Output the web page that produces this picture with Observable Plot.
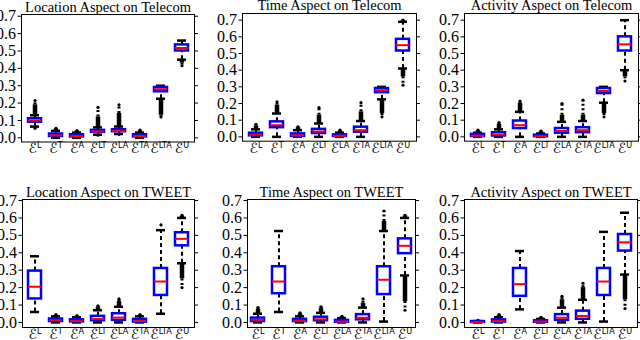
<!DOCTYPE html>
<html>
<head>
<meta charset="utf-8">
<script src="https://cdn.jsdelivr.net/npm/d3@7"></script>
<script src="https://cdn.jsdelivr.net/npm/@observablehq/plot@0.6"></script>
<style>
  html, body { margin: 0; padding: 0; background: #fff; }
  #chart { position: relative; width: 640px; height: 340px; overflow: hidden; background: #fff; }
  #chart svg { position: absolute; }
</style>
</head>
<body>
<div id="chart"></div>
<script>
// Categories (superscripts of the script E)
const categories = ["L", "T", "A", "LT", "LA", "TA", "LTA", "U"];
const yTicks = [0, 0.1, 0.2, 0.3, 0.4, 0.5, 0.6, 0.7];
const titles = [
  "Location Aspect on Telecom", "Time Aspect on Telecom", "Activity Aspect on Telecom",
  "Location Aspect on TWEET", "Time Aspect on TWEET", "Activity Aspect on TWEET"
];

// Each row: [whiskerLo, q1, median, q3, whiskerHi, lowOutlierEnd, lowOutlierDense, highOutlierDense, highOutlierEnd]
const locationTelecom = [
  [0.065, 0.090, 0.100, 0.110, 0.130, 0.055, 0.055, 0.190, 0.215],
  [0.000, 0.008, 0.015, 0.022, 0.040, null, null, 0.050, 0.055],
  [0.000, 0.005, 0.010, 0.018, 0.030, null, null, 0.040, 0.042],
  [0.018, 0.032, 0.037, 0.043, 0.060, 0.015, 0.015, 0.120, 0.175],
  [0.022, 0.035, 0.040, 0.047, 0.065, 0.020, 0.020, 0.140, 0.190],
  [0.000, 0.005, 0.010, 0.018, 0.030, null, null, 0.040, 0.045],
  [0.225, 0.265, 0.280, 0.290, 0.300, 0.120, 0.130, null, null],
  [0.450, 0.500, 0.517, 0.535, 0.560, 0.415, 0.430, null, null]
];
const timeTelecom = [
  [0.000, 0.006, 0.013, 0.022, 0.045, null, null, 0.065, 0.075],
  [0.000, 0.055, 0.070, 0.090, 0.140, null, null, 0.190, 0.210],
  [0.000, 0.003, 0.010, 0.018, 0.040, null, null, 0.055, 0.060],
  [0.000, 0.020, 0.032, 0.045, 0.080, null, null, 0.130, 0.175],
  [0.000, 0.002, 0.006, 0.012, 0.025, null, null, 0.035, 0.040],
  [0.000, 0.028, 0.040, 0.058, 0.095, null, null, 0.150, 0.205],
  [0.225, 0.265, 0.280, 0.290, 0.300, 0.120, 0.140, null, null],
  [0.410, 0.515, 0.550, 0.585, 0.690, 0.310, 0.360, 0.700, 0.700]
];
const activityTelecom = [
  [0.000, 0.002, 0.007, 0.015, 0.025, null, null, 0.035, 0.040],
  [0.000, 0.005, 0.013, 0.025, 0.045, null, null, 0.075, 0.085],
  [0.000, 0.050, 0.070, 0.095, 0.150, null, null, 0.200, 0.215],
  [0.000, 0.001, 0.004, 0.010, 0.020, null, null, 0.030, 0.035],
  [0.000, 0.022, 0.035, 0.050, 0.090, null, null, 0.130, 0.200],
  [0.000, 0.025, 0.040, 0.055, 0.095, null, null, 0.130, 0.220],
  [0.205, 0.260, 0.275, 0.290, 0.300, 0.120, 0.140, null, null],
  [0.400, 0.515, 0.555, 0.600, 0.700, 0.335, 0.360, null, null]
];
const locationTweet = [
  [0.060, 0.135, 0.205, 0.295, 0.380, null, null, null, null],
  [0.000, 0.005, 0.012, 0.020, 0.035, null, null, 0.040, 0.045],
  [0.000, 0.003, 0.008, 0.015, 0.030, null, null, 0.035, 0.040],
  [0.000, 0.010, 0.020, 0.035, 0.070, null, null, 0.085, 0.095],
  [0.000, 0.012, 0.028, 0.050, 0.090, null, null, 0.120, 0.135],
  [0.000, 0.002, 0.008, 0.018, 0.035, null, null, 0.040, 0.045],
  [0.050, 0.155, 0.235, 0.310, 0.530, null, null, null, 0.560],
  [0.340, 0.440, 0.480, 0.515, 0.600, 0.200, 0.250, 0.610, 0.615]
];
const timeTweet = [
  [0.000, 0.005, 0.015, 0.025, 0.050, null, null, 0.075, 0.085],
  [0.060, 0.165, 0.235, 0.320, 0.525, null, null, null, null],
  [0.000, 0.005, 0.010, 0.018, 0.035, null, null, 0.050, 0.055],
  [0.000, 0.010, 0.018, 0.030, 0.055, null, null, 0.080, 0.090],
  [0.000, 0.001, 0.005, 0.012, 0.025, null, null, 0.030, 0.035],
  [0.000, 0.015, 0.027, 0.045, 0.085, null, null, 0.110, 0.135],
  [0.005, 0.160, 0.245, 0.320, 0.525, null, null, 0.580, 0.640],
  [0.270, 0.395, 0.440, 0.480, 0.600, 0.070, 0.120, 0.610, 0.615]
];
const activityTweet = [
  [0.000, 0.000, 0.002, 0.005, 0.008, null, null, 0.011, 0.012],
  [0.000, 0.002, 0.008, 0.015, 0.030, null, null, 0.040, 0.045],
  [0.075, 0.150, 0.220, 0.310, 0.410, null, null, null, null],
  [0.000, 0.001, 0.005, 0.010, 0.020, null, null, 0.028, 0.030],
  [0.000, 0.012, 0.027, 0.045, 0.085, null, null, 0.130, 0.150],
  [0.000, 0.018, 0.037, 0.065, 0.130, null, null, 0.200, 0.225],
  [0.005, 0.155, 0.235, 0.310, 0.520, null, null, null, null],
  [0.275, 0.410, 0.460, 0.505, 0.630, 0.080, 0.130, null, null]
];

const panels = [
  {rows: locationTelecom, title: titles[0], frame: [21, 194, 13.5, 141], domain: [-0.024, 0.71]},
  {rows: timeTelecom, title: titles[1], frame: [242, 416, 13.3, 141], domain: [-0.026, 0.74]},
  {rows: activityTelecom, title: titles[2], frame: [464, 638, 13.3, 141], domain: [-0.026, 0.74]},
  {rows: locationTweet, title: titles[3], frame: [22, 194, 198.5, 326.5], domain: [-0.029, 0.706]},
  {rows: timeTweet, title: titles[4], frame: [247, 415, 198.5, 326.5], domain: [-0.029, 0.706]},
  {rows: activityTweet, title: titles[5], frame: [464, 637, 198.5, 326.5], domain: [-0.029, 0.706]}
];

const ML = 40, MR = 8, MT = 20, MB = 30;
const hasAxisMarks = typeof Plot.axisY === "function";

function makePanel(p) {
  const data = p.rows.map((r, i) => ({
    cat: categories[i], wLo: r[0], q1: r[1], med: r[2], q3: r[3], wHi: r[4],
    loEnd: r[5], loDense: r[6], hiDense: r[7], hiEnd: r[8]
  }));
  const [x0, x1, y0, y1] = p.frame;
  const width = (x1 - x0) + ML + MR;
  const height = (y1 - y0) + MT + MB;

  const hiDenseRows = data.filter(d => d.hiDense != null);
  const loDenseRows = data.filter(d => d.loDense != null);
  const hiSparseRows = data.filter(d => d.hiDense != null && d.hiEnd != null && d.hiEnd > d.hiDense);
  const loSparseRows = data.filter(d => d.loDense != null && d.loEnd != null && d.loEnd < d.loDense);
  const hiEndRows = data.filter(d => d.hiEnd != null);
  const loEndRows = data.filter(d => d.loEnd != null);

  const marks = [];
  if (hasAxisMarks) {
    marks.push(Plot.axisY(yTicks, {anchor: "left", tickSize: 3.5, tickPadding: 2, tickFormat: d3.format(".1f"), label: null, fontSize: 16}));
    marks.push(Plot.axisY(yTicks, {anchor: "right", tickSize: 3, tickFormat: () => "", label: null}));
    marks.push(Plot.axisX({anchor: "bottom", tickSize: 0, tickPadding: 0, label: null}));
  }
  marks.push(
    Plot.frame({stroke: "black", strokeWidth: 1}),
    // whiskers (dashed)
    Plot.ruleX(data, {x: "cat", y1: "q3", y2: "wHi", stroke: "black", strokeWidth: 2, strokeDasharray: "4,3"}),
    Plot.ruleX(data, {x: "cat", y1: "wLo", y2: "q1", stroke: "black", strokeWidth: 2, strokeDasharray: "4,3"}),
    // dense outlier columns
    Plot.ruleX(hiDenseRows, {x: "cat", y1: "wHi", y2: "hiDense", stroke: "black", strokeWidth: 4.5}),
    Plot.ruleX(loDenseRows, {x: "cat", y1: "wLo", y2: "loDense", stroke: "black", strokeWidth: 4.5}),
    // sparse outlier tails
    Plot.ruleX(hiSparseRows, {x: "cat", y1: "hiDense", y2: "hiEnd", stroke: "black", strokeWidth: 3, strokeDasharray: "2,2.5"}),
    Plot.ruleX(loSparseRows, {x: "cat", y1: "loDense", y2: "loEnd", stroke: "black", strokeWidth: 3, strokeDasharray: "2,2.5"}),
    Plot.dot(hiEndRows, {x: "cat", y: "hiEnd", r: 1.6, fill: "black", stroke: null}),
    Plot.dot(loEndRows, {x: "cat", y: "loEnd", r: 1.6, fill: "black", stroke: null}),
    // caps
    Plot.tickY(data, {x: "cat", y: "wHi", stroke: "black", strokeWidth: 2.5, insetLeft: 6, insetRight: 6}),
    Plot.tickY(data, {x: "cat", y: "wLo", stroke: "black", strokeWidth: 2.5, insetLeft: 6, insetRight: 6}),
    // boxes
    Plot.barY(data, {x: "cat", y1: "q1", y2: "q3", fill: "white", stroke: "#0000ff", strokeWidth: 2.5, insetLeft: 4, insetRight: 4}),
    // medians
    Plot.tickY(data, {x: "cat", y: "med", stroke: "#ff0000", strokeWidth: 2, insetLeft: 4, insetRight: 4}),
    // title
    Plot.text([p.title], {frameAnchor: "top", dy: -3, lineAnchor: "bottom", text: d => d, fontSize: 14.5, fill: "black"})
  );

  const svg = Plot.plot({
    width, height,
    marginLeft: ML, marginRight: MR, marginTop: MT, marginBottom: MB,
    x: {type: "band", domain: categories, padding: 0, label: null, tickSize: 0, tickPadding: 0},
    y: {domain: p.domain, ticks: yTicks, tickFormat: d3.format(".1f"), label: null, tickSize: 3.5, tickPadding: 2},
    style: {fontFamily: "'Liberation Serif', 'Times New Roman', serif", fontSize: "16px", color: "black", background: "transparent", overflow: "visible"},
    marks
  });
  svg.style.left = (x0 - ML) + "px";
  svg.style.top = (y0 - MT) + "px";

  // x tick labels: script E with superscript
  let labels = svg.querySelectorAll('g[aria-label="x-axis tick label"] text');
  if (!labels.length) labels = svg.querySelectorAll('g[aria-label="x-axis"] text');
  labels.forEach(t => {
    const sup = t.textContent;
    if (!categories.includes(sup)) return;
    t.textContent = "";
    const ns = "http://www.w3.org/2000/svg";
    const e = document.createElementNS(ns, "tspan");
    e.textContent = "ℰ";
    e.setAttribute("font-family", "'DejaVu Sans', sans-serif");
    e.setAttribute("font-size", "14");
    e.setAttribute("font-style", "italic");
    const s = document.createElementNS(ns, "tspan");
    s.textContent = sup;
    s.setAttribute("font-family", "'DejaVu Sans Condensed', 'DejaVu Sans', sans-serif");
    s.setAttribute("font-size", "9");
    s.setAttribute("dy", "-0.55em");
    t.appendChild(e);
    t.appendChild(s);
  });
  return svg;
}

const chart = document.getElementById("chart");
panels.forEach(p => chart.appendChild(makePanel(p)));
</script>
</body>
</html>
